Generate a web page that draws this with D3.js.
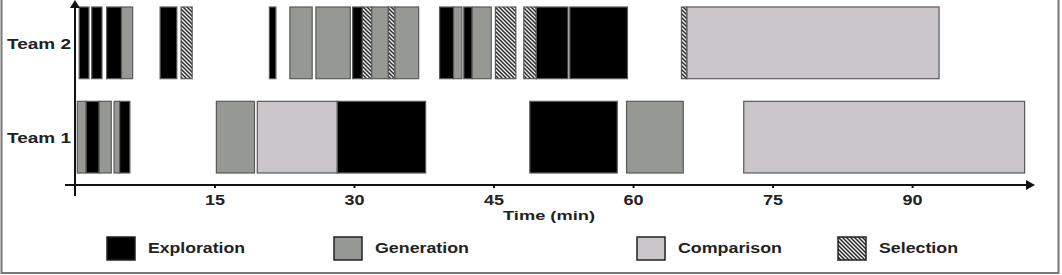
<!DOCTYPE html>
<html>
<head>
<meta charset="utf-8">
<script src="https://cdn.jsdelivr.net/npm/d3@7"></script>
<style>
  body { margin: 0; background: #fff; }
  text { font-family: "Liberation Sans", Arial, sans-serif; font-weight: bold; fill: #222; }
</style>
</head>
<body>
<div id="chart"></div>
<script>
// teams on the y axis, top to bottom
var teams = ["Team 2", "Team 1"];
var phases = ["Exploration", "Generation", "Comparison", "Selection"];
var tickValues = [15, 30, 45, 60, 75, 90];

// [start, end, phase] in minutes
var team1Segments = [
    [0.25, 1.2, "Generation"], [1.2, 2.6, "Exploration"], [2.6, 3.9, "Generation"],
    [4.2, 4.8, "Generation"], [4.8, 5.9, "Exploration"],
    [15.2, 19.3, "Generation"], [19.6, 28.2, "Comparison"], [28.2, 37.7, "Exploration"],
    [48.9, 58.3, "Exploration"], [59.3, 65.4, "Generation"],
    [71.9, 102.1, "Comparison"]
];
var team2Segments = [
    [0.45, 1.5, "Exploration"], [1.8, 2.9, "Exploration"],
    [3.4, 5.0, "Exploration"], [5.0, 6.2, "Generation"],
    [9.15, 10.95, "Exploration"], [11.4, 12.6, "Selection"],
    [20.9, 21.6, "Exploration"],
    [23.1, 25.5, "Generation"], [25.9, 29.6, "Generation"],
    [29.85, 30.9, "Exploration"], [30.9, 31.9, "Selection"], [31.9, 33.7, "Generation"],
    [33.7, 34.4, "Selection"], [34.4, 36.95, "Generation"],
    [39.2, 40.7, "Exploration"], [40.7, 41.6, "Generation"],
    [41.8, 42.7, "Exploration"], [42.7, 44.75, "Generation"],
    [45.2, 47.4, "Selection"],
    [48.25, 49.6, "Selection"], [49.6, 53.0, "Exploration"], [53.2, 59.4, "Exploration"],
    [65.2, 65.8, "Selection"], [65.8, 92.9, "Comparison"]
];

var width = 1062, height = 275;

var svg = d3.select("#chart").append("svg")
    .attr("width", width)
    .attr("height", height);

// hatch for selection
var pat = svg.append("defs").append("pattern")
    .attr("id", "hatch")
    .attr("patternUnits", "userSpaceOnUse")
    .attr("width", 4)
    .attr("height", 4);
pat.append("rect").attr("width", 4).attr("height", 4).attr("fill", "#f2f2f2");
pat.append("path")
    .attr("d", "M0,0 L4,4 M-1,3 L1,5 M3,-1 L5,1")
    .attr("stroke", "#2a2a2a")
    .attr("stroke-width", 1.5);

var fill = d3.scaleOrdinal()
    .domain(phases)
    .range(["#000", "#959893", "#c9c5c9", "url(#hatch)"]);

var x = d3.scaleLinear().domain([0, 103]).range([75, 1033]);
var y = d3.scaleBand().domain(teams).range([7, 173]).paddingInner(0.24);

var axisY = 185;

// outer frame
svg.append("rect")
    .attr("x", 1.5).attr("y", -5)
    .attr("width", 1057).attr("height", 278)
    .attr("fill", "none")
    .attr("stroke", "#777")
    .attr("stroke-width", 2);

var rows = [["Team 1", team1Segments], ["Team 2", team2Segments]];
rows.forEach(function (row) {
    svg.append("g").selectAll("rect")
        .data(row[1])
        .enter().append("rect")
        .attr("x", function (d) { return x(d[0]); })
        .attr("y", y(row[0]))
        .attr("width", function (d) { return x(d[1]) - x(d[0]); })
        .attr("height", y.bandwidth())
        .attr("fill", function (d) { return fill(d[2]); })
        .attr("stroke", "#5a5a5a")
        .attr("stroke-width", 1.2);
});

// team labels
svg.selectAll(".team")
    .data(teams)
    .enter().append("text")
    .attr("x", 7)
    .attr("y", function (d) { return y(d) + y.bandwidth() / 2 + 6; })
    .attr("textLength", 64)
    .attr("lengthAdjust", "spacingAndGlyphs")
    .style("font-size", "14px")
    .text(function (d) { return d; });

// axes lines with arrows
svg.append("line")
    .attr("x1", 75).attr("y1", 2).attr("x2", 75).attr("y2", 196)
    .attr("stroke", "#111").attr("stroke-width", 2);
svg.append("path")
    .attr("d", "M70,8 L75,0 L80,8 Z")
    .attr("fill", "#111");
svg.append("line")
    .attr("x1", 65).attr("y1", axisY).attr("x2", 1030).attr("y2", axisY)
    .attr("stroke", "#111").attr("stroke-width", 2);
svg.append("path")
    .attr("d", "M1026,180 L1035,185 L1026,190 Z")
    .attr("fill", "#111");

var xAxis = d3.axisBottom(x)
    .tickValues(tickValues)
    .tickSize(4)
    .tickPadding(7);
var gx = svg.append("g")
    .attr("transform", "translate(0," + (axisY - 1) + ")")
    .call(xAxis);
gx.select(".domain").remove();
gx.selectAll("line").attr("stroke", "#111").attr("stroke-width", 2);
gx.selectAll("text")
    .attr("textLength", 20)
    .attr("lengthAdjust", "spacingAndGlyphs")
    .style("font-size", "14px")
    .style("font-family", "Liberation Sans, Arial, sans-serif")
    .style("font-weight", "bold")
    .attr("fill", "#222");

svg.append("text")
    .attr("x", 503)
    .attr("y", 220)
    .attr("textLength", 92)
    .attr("lengthAdjust", "spacingAndGlyphs")
    .style("font-size", "13px")
    .text("Time (min)");

// legend
var legendX = [107, 334, 637, 838];
var legendW = [97, 94, 104, 79];
var lg = svg.selectAll(".legend")
    .data(phases)
    .enter().append("g")
    .attr("transform", function (d, i) { return "translate(" + legendX[i] + ",237)"; });
lg.append("rect")
    .attr("width", 28)
    .attr("height", 23)
    .attr("fill", function (d) { return fill(d); })
    .attr("stroke", "#222")
    .attr("stroke-width", 1.5);
lg.append("text")
    .attr("x", 41)
    .attr("y", 16)
    .attr("textLength", function (d, i) { return legendW[i]; })
    .attr("lengthAdjust", "spacingAndGlyphs")
    .style("font-size", "14px")
    .text(function (d) { return d; });
</script>
</body>
</html>
